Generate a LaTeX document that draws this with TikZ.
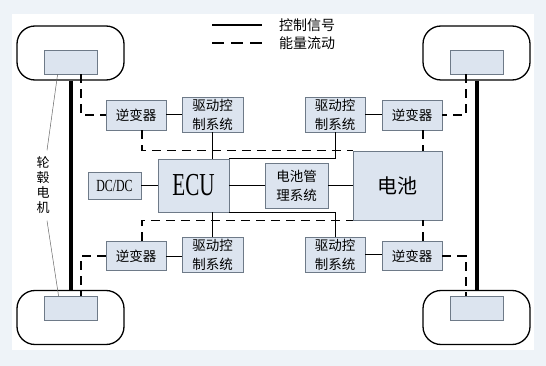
\documentclass[tikz,border=0pt]{standalone}
\usepackage{fontspec}
\setmainfont{Liberation Serif}
\newfontfamily\cjk{Noto Sans CJK SC}
\definecolor{bgout}{HTML}{EEF3F8}
\definecolor{boxfill}{HTML}{DCE4EF}
\definecolor{boxline}{HTML}{6E7A88}
\begin{document}
\begin{tikzpicture}[x=1pt,y=-1pt,
  box/.style={draw=boxline,fill=boxfill,line width=0.8pt,inner sep=0pt,align=center,font=\cjk\fontsize{13.5}{19}\selectfont},
  wheel/.style={draw=black,line width=1.3pt,rounded corners=18pt,minimum width=107pt,minimum height=54pt,inner sep=0pt},
  hub/.style={draw=boxline,fill=boxfill,line width=0.8pt,minimum width=53pt,minimum height=24pt,inner sep=0pt},
  ctrl/.style={draw=black,line width=1pt},
  energy/.style={draw=black,line width=1.5pt,dash pattern=on 9pt off 6pt},
  axle/.style={draw=black,line width=4pt},
  thin/.style={draw=gray!80!black,line width=0.5pt}]
\useasboundingbox (0,0) rectangle (546,366);
\fill[bgout] (0,0) rectangle (546,366);
\fill[white] (12,14) rectangle (534,350);

% wheels
\node[wheel] (wTL) at (70.5,53) {};
\node[wheel] (wTR) at (476.5,53) {};
\node[wheel] (wBL) at (70.5,317.5) {};
\node[wheel] (wBR) at (476.5,317.5) {};
\node[hub] (iTL) at (70.5,62) {};
\node[hub] (iTR) at (476.5,62) {};
\node[hub] (iBL) at (70.5,308.5) {};
\node[hub] (iBR) at (476.5,308.5) {};

% boxes
\node[box,minimum width=60pt,minimum height=30pt] (invTL) at (136,115) {逆变器};
\node[box,minimum width=60pt,minimum height=30pt] (invTR) at (412,115) {逆变器};
\node[box,minimum width=60pt,minimum height=29pt] (invBL) at (136,256) {逆变器};
\node[box,minimum width=60pt,minimum height=29pt] (invBR) at (412,256) {逆变器};
\node[box,minimum width=61pt,minimum height=35pt] (drTL) at (212.5,114.5) {驱动控\\制系统};
\node[box,minimum width=60pt,minimum height=35pt] (drTR) at (335,114.5) {驱动控\\制系统};
\node[box,minimum width=61pt,minimum height=35pt] (drBL) at (212.5,254.5) {驱动控\\制系统};
\node[box,minimum width=60pt,minimum height=35pt] (drBR) at (335,254.5) {驱动控\\制系统};
\node[box,minimum width=71pt,minimum height=53pt] (ECU) at (193.5,185.5) {\fontspec{Liberation Serif}\fontsize{32}{32}\selectfont\scalebox{0.66}[1]{ECU}};
\node[box,minimum width=63pt,minimum height=45pt] (bms) at (296.5,185.5) {电池管\\理系统};
\node[box,minimum width=89pt,minimum height=69pt,font=\cjk\fontsize{20}{24}\selectfont] (bat) at (397.5,185.5) {电池};
\node[box,minimum width=53pt,minimum height=27pt] (dcdc) at (114.5,185.5) {\fontspec{Liberation Serif}\fontsize{17}{17}\selectfont\scalebox{0.7}[1]{DC/DC}};

% axles
\draw[axle] (wTL.south) -- (wBL.north);
\draw[axle] (wTR.south) -- (wBR.north);

% energy flow (dashed)
\draw[energy] ([xshift=10.5pt]iTL.south) |- (invTL.west);
\draw[energy] ([xshift=-10.5pt]iTR.south) |- (invTR.east);
\draw[energy] (invBL.west) -| ([xshift=10.5pt]iBL.north);
\draw[energy] (invBR.east) -| ([xshift=-10.5pt]iBR.north);
\coordinate (eTL) at ([xshift=6pt]invTL.south);
\coordinate (eBL) at ([xshift=6pt]invBL.north);
\coordinate (eTR) at ([xshift=11pt]invTR.south);
\coordinate (eBR) at ([xshift=11pt]invBR.north);
\draw[energy] (eTL) |- (bat.north west);
\draw[energy] (eBL) |- (bat.south west);
\draw[energy] (eTR) -- (eTR |- bat.north);
\draw[energy] (eBR) -- (eBR |- bat.south);

% control signals (solid)
\draw[ctrl] (invTL.east) -- (invTL.east -| drTL.west);
\draw[ctrl] (drTR.east) -- (drTR.east -| invTR.west);
\draw[ctrl] (invBL.east) -- (invBL.east -| drBL.west);
\draw[ctrl] (drBR.east) -- (drBR.east -| invBR.west);
\draw[ctrl] (drTL.south) -- (drTL.south |- ECU.north);
\draw[ctrl] (drBL.north) -- (drBL.north |- ECU.south);
\draw[ctrl] (drTR.south) |- (ECU.north east);
\draw[ctrl] (drBR.north) |- (ECU.south east);
\draw[ctrl] (dcdc.east) -- (ECU.west);
\draw[ctrl] (ECU.east) -- (bms.west);
\draw[ctrl] (bms.east) -- (bat.west);

% hub motor label
\node[align=center,inner sep=0pt,minimum height=70pt,font=\cjk\fontsize{13}{15}\selectfont] (lab) at (43,185.5) {轮\\毂\\电\\机};
\draw[thin] ([xshift=4pt]lab.north) -- ([xshift=14pt]iTL.south west);
\draw[thin] ([xshift=4pt]lab.south) -- ([xshift=15pt]iBL.north west);

% legend
\coordinate (la1) at (212,25);
\coordinate (lb1) at (262,25);
\coordinate (la2) at (212,43);
\coordinate (lb2) at (262,43);
\draw[ctrl,line width=1.4pt] (la1) -- (lb1);
\draw[energy,dash pattern=on 12pt off 7pt] (la2) -- (lb2);
\node[anchor=west,inner sep=0pt,font=\cjk\fontsize{14}{14}\selectfont] (lt1) at (279,25) {控制信号};
\node[anchor=west,inner sep=0pt,font=\cjk\fontsize{14}{14}\selectfont] (lt2) at (279,43) {能量流动};
\end{tikzpicture}
\end{document}
